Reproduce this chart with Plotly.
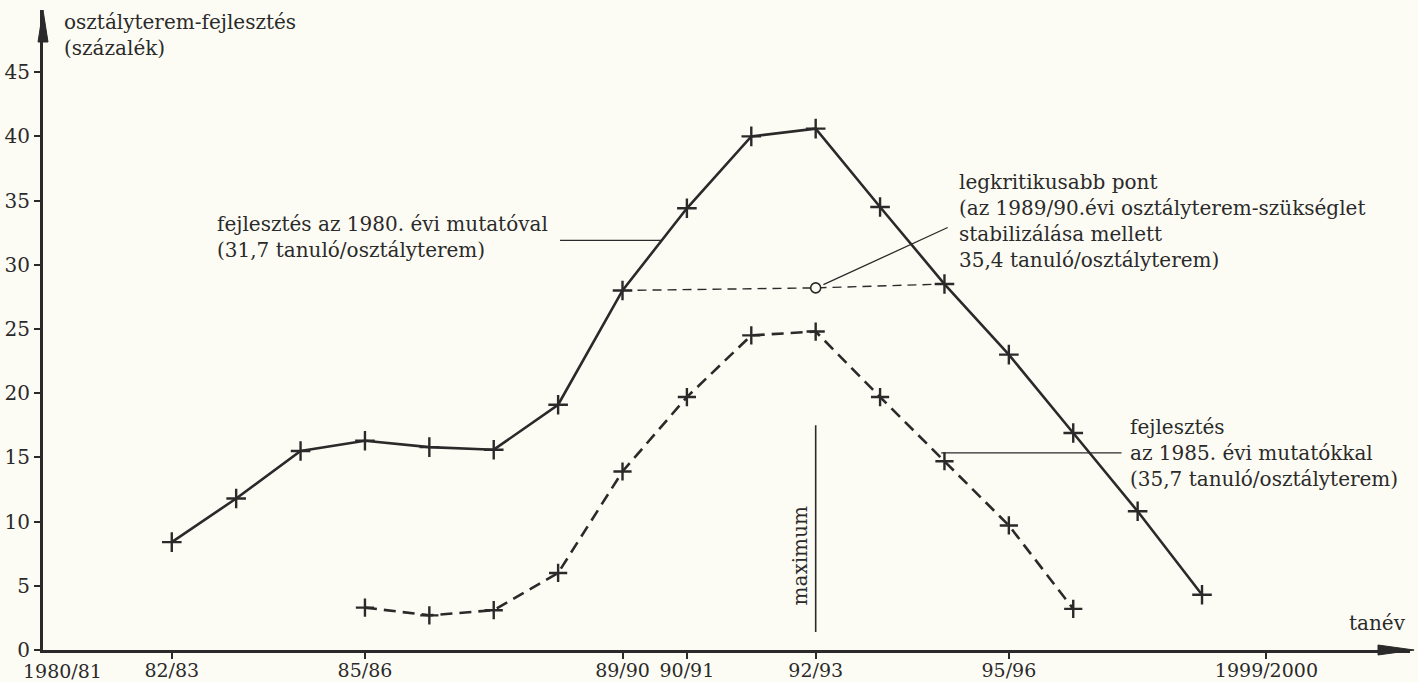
import plotly.graph_objects as go

# ---------------- data ----------------
years_1980 = [1982, 1983, 1984, 1985, 1986, 1987, 1988, 1989, 1990,
              1991, 1992, 1993, 1994, 1995, 1996, 1997, 1998]
dev_1980 = [8.4, 11.8, 15.5, 16.3, 15.8, 15.6, 19.1, 28.0, 34.4,
            40.0, 40.6, 34.5, 28.5, 23.0, 16.9, 10.8, 4.3]

years_1985 = [1985, 1986, 1987, 1988, 1989, 1990, 1991, 1992,
              1993, 1994, 1995, 1996]
dev_1985 = [3.3, 2.7, 3.1, 6.0, 13.9, 19.7, 24.5, 24.8,
            19.7, 14.7, 9.7, 3.2]

crit_years = [1989, 1992, 1994]
crit_vals = [28.0, 28.2, 28.5]
crit_point_year = 1992
crit_point_val = 28.2

x_tickvals = [1982, 1985, 1989, 1990, 1992, 1995, 1999]
x_ticktext = ["82/83", "85/86", "89/90", "90/91", "92/93", "95/96", "1999/2000"]
y_tickvals = [0, 5, 10, 15, 20, 25, 30, 35, 40, 45]

# ---------------- style ----------------
INK = "#2a2a2a"
BG = "#fdfcf4"
FONT = "DejaVu Serif"
X_MIN, X_MAX = 1980, 2001.23
Y_MIN, Y_MAX = 0, 49.84
PLOT_W, PLOT_H = 1367, 640

fig = go.Figure()

fig.add_trace(go.Scatter(
    x=years_1980, y=dev_1980, mode="lines+markers",
    line=dict(color=INK, width=2.6),
    marker=dict(symbol="cross-thin", size=14, line=dict(color=INK, width=2.4)),
    showlegend=False, hoverinfo="x+y"))

fig.add_trace(go.Scatter(
    x=years_1985, y=dev_1985, mode="lines+markers",
    line=dict(color=INK, width=2.6, dash="12px,7px"),
    marker=dict(symbol="cross-thin", size=13, line=dict(color=INK, width=2.4)),
    showlegend=False, hoverinfo="x+y"))

fig.add_trace(go.Scatter(
    x=crit_years, y=crit_vals, mode="lines",
    line=dict(color=INK, width=1.4, dash="9px,6px"),
    showlegend=False, hoverinfo="skip"))

fig.add_trace(go.Scatter(
    x=[crit_point_year], y=[crit_point_val], mode="markers",
    marker=dict(symbol="circle", size=10, color=BG, line=dict(color=INK, width=1.6)),
    showlegend=False, hoverinfo="x+y"))

ax_len_x = 32 / PLOT_W
ax_half_y = 5 / PLOT_H
ay_len = 32 / PLOT_H
ay_half_x = 5 / PLOT_W

shapes = [
    # axis arrowheads (paper coordinates)
    dict(type="path", xref="paper", yref="paper",
         path=f"M {1 - ax_len_x},{-ax_half_y} L 1.003,0 L {1 - ax_len_x},{ax_half_y} Z",
         fillcolor=INK, line=dict(color=INK, width=1)),
    dict(type="path", xref="paper", yref="paper",
         path=f"M {-ay_half_x},{1 - ay_len} L 0,1.0 L {ay_half_x},{1 - ay_len} Z",
         fillcolor=INK, line=dict(color=INK, width=1)),
    # leader lines
    dict(type="line", xref="x", yref="y", x0=1988.03, y0=31.9, x1=1989.62, y1=31.9,
         line=dict(color=INK, width=1.3)),
    dict(type="line", xref="x", yref="y", x0=1992.12, y0=28.45, x1=1994.05, y1=32.9,
         line=dict(color=INK, width=1.3)),
    dict(type="line", xref="x", yref="y", x0=1993.95, y0=15.35, x1=1996.75, y1=15.35,
         line=dict(color=INK, width=1.3)),
    # "maximum" marker line
    dict(type="line", xref="x", yref="y", x0=1992, y0=1.4, x1=1992, y1=17.5,
         line=dict(color=INK, width=1.6)),
]

tf = dict(family=FONT, size=20, color=INK)
xf = dict(family=FONT, size=19, color=INK)
annotations = [
    dict(x=1980.3, y=Y_MAX, xref="x", yref="y", xanchor="left", yanchor="top",
         yshift=2, text="osztályterem-fejlesztés<br>(százalék)", align="left",
         showarrow=False, font=tf),
    dict(x=1982.67, y=32.2, xref="x", yref="y", xanchor="left", yanchor="middle",
         text="fejlesztés az 1980. évi mutatóval<br>(31,7 tanuló/osztályterem)", align="left",
         showarrow=False, font=tf),
    dict(x=1994.2, y=33.4, xref="x", yref="y", xanchor="left", yanchor="middle",
         text="legkritikusabb pont<br>(az 1989/90.évi osztályterem-szükséglet<br>"
              "stabilizálása mellett<br>35,4 tanuló/osztályterem)", align="left",
         showarrow=False, font=tf),
    dict(x=1996.85, y=15.35, xref="x", yref="y", xanchor="left", yanchor="middle",
         text="fejlesztés<br>az 1985. évi mutatókkal<br>(35,7 tanuló/osztályterem)", align="left",
         showarrow=False, font=tf),
    dict(x=1991.76, y=7.3, xref="x", yref="y", xanchor="center", yanchor="middle",
         text="maximum", textangle=-90, showarrow=False, font=tf),
    dict(x=2000.73, y=2.1, xref="x", yref="y", xanchor="center", yanchor="middle",
         text="tanév", showarrow=False, font=tf),
    dict(x=1980.3, y=0, xref="x", yref="y", xanchor="center", yanchor="top",
         yshift=-8, text="1980/81", showarrow=False, font=xf),
]

fig.update_layout(
    width=1418, height=682,
    margin=dict(l=43, r=8, t=10, b=32),
    paper_bgcolor=BG, plot_bgcolor=BG,
    shapes=shapes, annotations=annotations,
    xaxis=dict(range=[X_MIN, X_MAX], showgrid=False, zeroline=False,
               showline=True, linecolor=INK, linewidth=3, automargin=False,
               ticks="outside", ticklen=6, tickwidth=1.5, tickcolor=INK,
               tickvals=x_tickvals, ticktext=x_ticktext,
               ticklabelstandoff=-5, tickfont=xf),
    yaxis=dict(range=[Y_MIN, Y_MAX], showgrid=False, zeroline=False,
               showline=True, linecolor=INK, linewidth=3, automargin=False,
               ticks="outside", ticklen=6, tickwidth=1.5, tickcolor=INK,
               tickvals=y_tickvals, tickfont=tf),
)

fig.write_html(
    "out.html",
    config={"displayModeBar": False},
    post_script=f"document.body.style.margin='0';document.body.style.background='{BG}';",
)
